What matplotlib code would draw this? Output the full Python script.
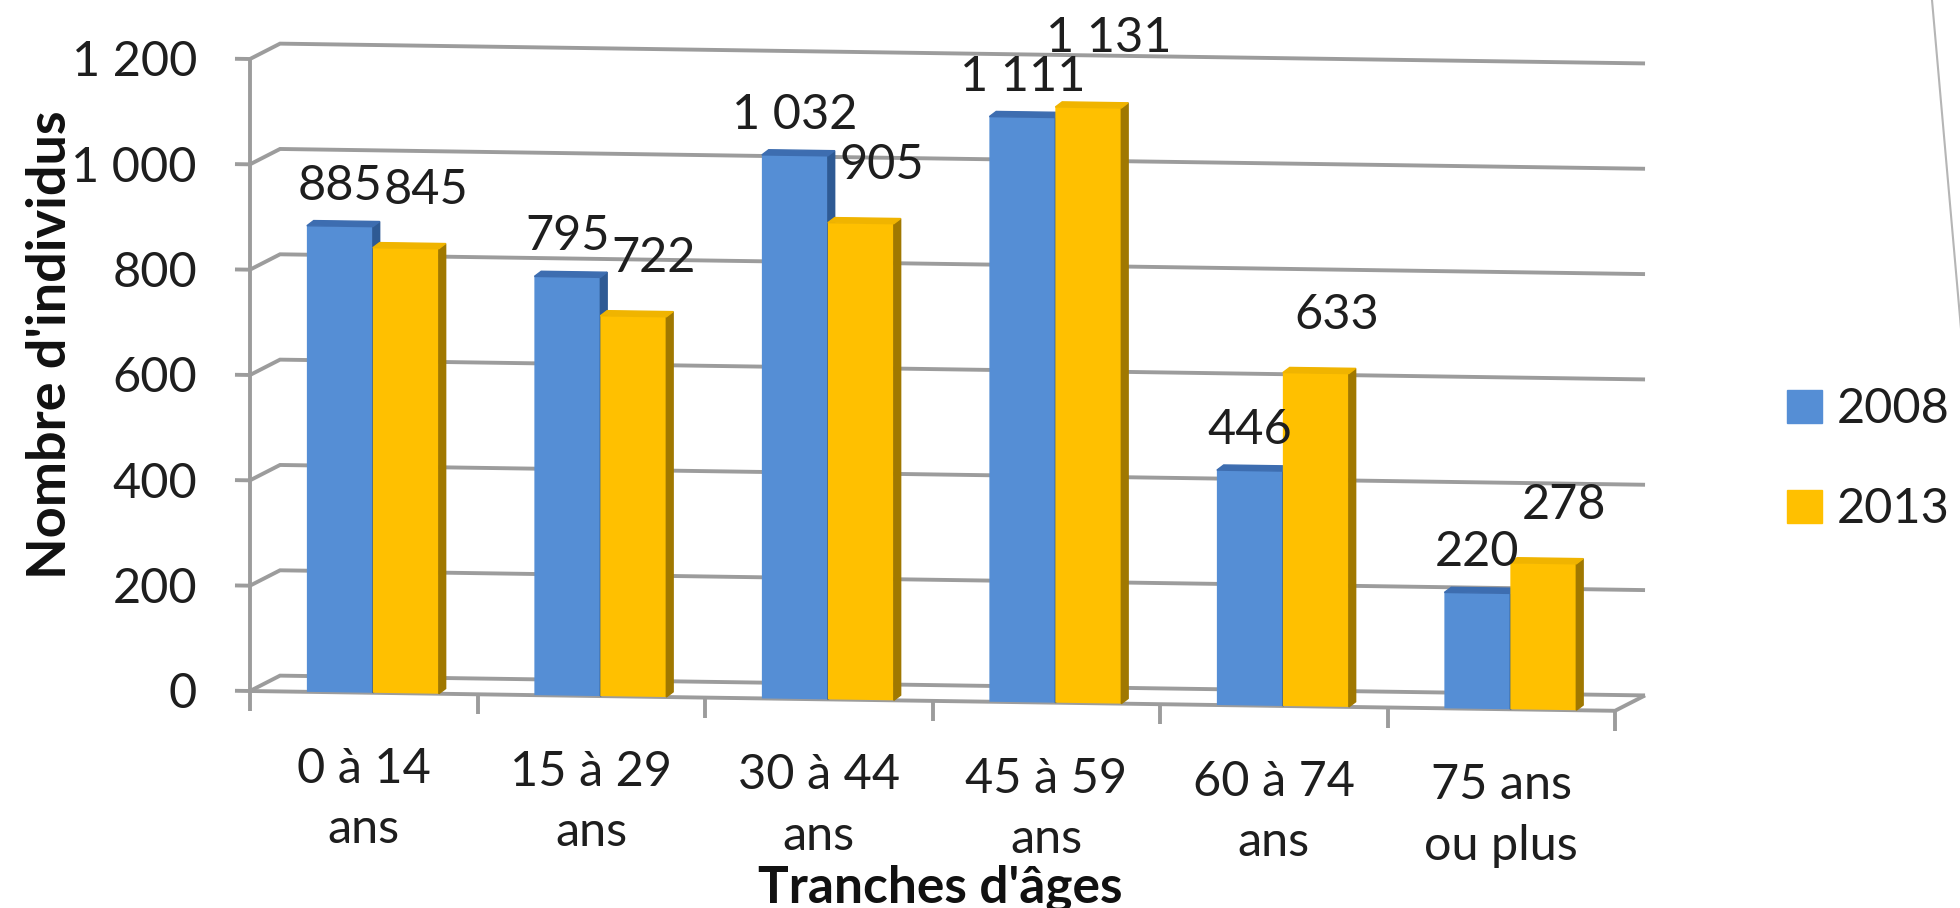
import numpy as np
import matplotlib
matplotlib.use("Agg")
import matplotlib.pyplot as plt
from matplotlib.patches import Polygon, Rectangle
from matplotlib.transforms import Affine2D
from matplotlib.lines import Line2D

tranches = ["0 à 14\nans", "15 à 29\nans", "30 à 44\nans",
            "45 à 59\nans", "60 à 74\nans", "75 ans\nou plus"]
annees = ["2008", "2013"]
effectifs_2008 = [885, 795, 1032, 1111, 446, 220]
effectifs_2013 = [845, 722, 905, 1131, 633, 278]
graduations = [0, 200, 400, 600, 800, 1000, 1200]
etiquettes_y = ["0", "200", "400", "600", "800", "1 000", "1 200"]

plt.rcParams['font.family'] = ['Lato', 'DejaVu Sans']
texte = '#1e1e1e'

W, H, DPI = 1960, 908, 100
fig = plt.figure(figsize=(W / DPI, H / DPI), dpi=DPI)
x0_px, y0_px = 250, 691
ax = fig.add_axes([x0_px / W, 1 - y0_px / H, 1365 / W, 632 / H])
ax.set_xlim(0, 6)
ax.set_ylim(0, 1200)
ax.set_axis_off()

# la vue descend légèrement vers la droite
pente = 0.0145
devers = Affine2D().translate(-x0_px, 0).skew(0, -np.arctan(pente)).translate(x0_px, 0)
T = ax.transData + devers

# profondeur du fond (pseudo 3D)
prof_x, prof_y = 0.132, 30
trait = dict(color='#9c9c9c', lw=2.8, transform=T, clip_on=False, zorder=1,
             solid_capstyle='butt', solid_joinstyle='miter')

for v, lab in zip(graduations, etiquettes_y):
    ax.plot([0, prof_x, 6 + prof_x], [v, v + prof_y, v + prof_y], **trait)
    ax.plot([-0.066, 0], [v, v], **trait)
    ax.text(-0.233, v, lab, ha='right', va='center_baseline', fontsize=35,
            color=texte, transform=T)

ax.plot([0, 0], [0, 1200], **trait)
ax.plot([0, 6, 6 + prof_x], [0, 0, prof_y], **trait)
for i in range(len(tranches) + 1):
    ax.plot([i, i], [0, -38], **trait)

for i, lab in enumerate(tranches):
    ax.text(i + 0.5, -103, lab, ha='center', va='top', fontsize=35,
            linespacing=1.45, color=texte, transform=T)

# barres avec faces latérale et supérieure
larg = 0.29
centres = np.arange(len(tranches)) + 0.54
dx, dy = 0.03, 10
series = [
    (effectifs_2008, centres - larg, '#558ed5', '#3d6db0', '#2e5a94', 0.0, 35),
    (effectifs_2013, centres, '#ffc000', '#f0b400', '#a07800', 0.09, 70),
]
etiquettes = []
for valeurs, gauche, face, dessus, cote, decal, haut in series:
    barres = ax.bar(gauche, valeurs, width=larg, align='edge', color=face,
                    zorder=3)
    ligne = []
    for b, v in zip(barres, valeurs):
        b.set_transform(T)
        b.set_clip_on(False)
        l = b.get_x()
        r = l + larg
        ax.add_patch(Polygon([(r, 0), (r + dx, dy), (r + dx, v + dy), (r, v)],
                             closed=True, color=cote, zorder=3,
                             transform=T, clip_on=False))
        ax.add_patch(Polygon([(l, v), (l + dx, v + dy), (r + dx, v + dy), (r, v)],
                             closed=True, color=dessus, zorder=3,
                             transform=T, clip_on=False))
        t = ax.text(l + larg / 2 + decal, v + haut, f"{v:,}".replace(",", " "),
                    ha='center', va='bottom', fontsize=35, color=texte,
                    transform=T, zorder=5)
        ligne.append(t)
    etiquettes.append(ligne)

# une étiquette 2013 qui chevauche celle de 2008 passe au-dessus
fig.canvas.draw()
rend = fig.canvas.get_renderer()
unites_par_px = 1200 / 632
for t1, t2 in zip(*etiquettes):
    b1 = t1.get_window_extent(rend)
    b2 = t2.get_window_extent(rend)
    if b1.overlaps(b2):
        x2, _ = t2.get_position()
        _, y1 = t1.get_position()
        t2.set_position((x2, y1 + (b1.height - 4) * unites_par_px))

fig.text(51 / W, 1 - 345 / H, "Nombre d'individus", rotation=90,
         ha='center', va='center', fontsize=39, fontweight='bold', color='#111111')
fig.text(940 / W, 1 - 902 / H, "Tranches d'âges", ha='center', va='baseline',
         fontsize=37, fontweight='bold', color='#111111')

# légende
for annee, couleur, base in zip(annees, ['#558ed5', '#ffc000'], [423, 523]):
    fig.add_artist(Rectangle((1787 / W, 1 - base / H), 35 / W, 33 / H,
                             transform=fig.transFigure, color=couleur))
    fig.text(1837 / W, 1 - base / H, annee, ha='left', va='baseline',
             fontsize=35, color=texte)

fig.add_artist(Line2D([1932 / W, 1962 / W], [1, 1 - 340 / H],
                      transform=fig.transFigure, color='#b5b5b5', lw=1.5))

fig.savefig("out.png", dpi=DPI, facecolor='white')
